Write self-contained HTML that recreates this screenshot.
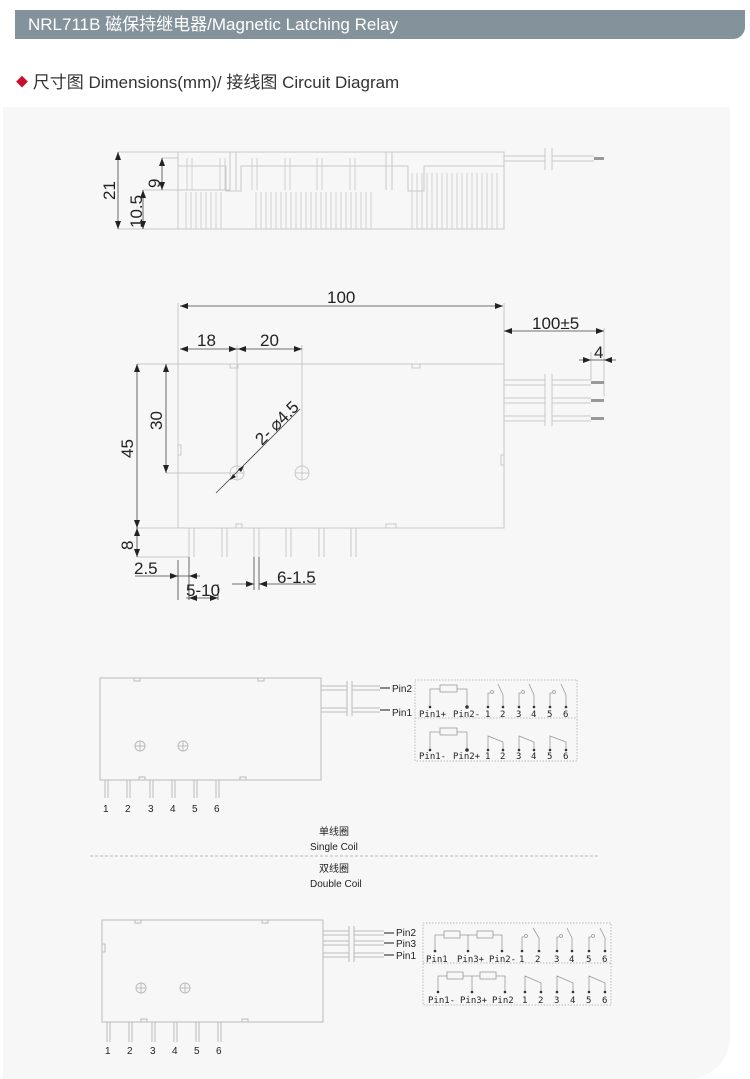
<!DOCTYPE html>
<html><head><meta charset="utf-8"><style>
body{margin:0;background:#fff;width:750px;height:1079px;overflow:hidden;font-family:"Liberation Sans","Noto Sans CJK SC",sans-serif}
.hdr{position:absolute;left:15px;top:10px;width:730px;height:29px;background:#84939b;border-bottom-right-radius:12px;color:#fff;font-size:17px;line-height:29px;padding-left:13px;box-sizing:border-box}
.sub{position:absolute;left:16px;top:68px;font-size:17px;color:#333}
.sub b{color:#c8102e;font-size:12px;font-weight:normal;vertical-align:2px}
.panel{position:absolute;left:3px;top:107px;width:727px;height:972px;background:#f7f7f7;border-bottom-right-radius:42px}
svg{position:absolute;left:0;top:0}
</style></head><body>
<div class="hdr">NRL711B 磁保持继电器/Magnetic Latching Relay</div>
<div class="sub"><b>◆</b> 尺寸图 Dimensions(mm)/ 接线图 Circuit Diagram</div>
<div class="panel"></div>
<svg width="750" height="1079" viewBox="0 0 750 1079" font-family="Liberation Sans, sans-serif">
<g fill="none" stroke="#c8c8c8" stroke-width="1">
<rect x="178" y="152" width="326" height="77"/>
<path d="M178 166H226V191H241V166H408V191H424V166H504"/>
<path d="M230 152V190M236 152V190M386 152V190M392 152V190"/>
<g stroke="#d0d0d0">
<path d="M187 158V190M192 158V190M220 158V190M225 158V190M252 158V190M257 158V190M285 158V190M290 158V190M317 158V190M322 158V190M350 158V190M355 158V190"/>
<path d="M186 192V229M191 192V229M196 192V229M201 192V229M206 192V229M211 192V229M216 192V229M221 192V229M256 192V229M261 192V229M266 192V229M271 192V229M276 192V229M281 192V229M286 192V229M291 192V229M296 192V229M301 192V229M306 192V229M311 192V229M316 192V229M321 192V229M326 192V229M331 192V229M336 192V229M341 192V229M346 192V229M351 192V229M356 192V229M361 192V229M366 192V229M371 192V229"/>
<path d="M412 173V229M417 173V229M422 173V229M427 173V229M432 173V229M437 173V229M442 173V229M447 173V229M452 173V229M457 173V229M462 173V229M467 173V229M472 173V229M477 173V229M482 173V229M487 173V229M492 173V229M497 173V229"/>
</g>
<path d="M504 156H545M504 161H545M552 156H594M552 161H594M545 148V170M552 148V170"/>
<path d="M118 152H178M118 229H178M143 190H230M162 158H178"/>
<rect x="178" y="364" width="326" height="164"/>
<path d="M178 303V364M504 303V364M237 345V473M302 345V473M166 473H237M137 364H178M137 528H178M137 557H189M604 328V396"/>
<circle cx="237" cy="473" r="7"/><circle cx="302" cy="473" r="7"/>
<path d="M230 473H244M237 466V480M295 473H309M302 466V480"/>
<path d="M189 528V557M194 528V557M222 528V557M227 528V557M254 528V557M259 528V557M286 528V557M291 528V557M319 528V557M324 528V557M351 528V557M356 528V557"/>
<rect x="230" y="364" width="8" height="4"/><rect x="412" y="364" width="8" height="4"/><rect x="236" y="524" width="6" height="4"/><rect x="386" y="524" width="10" height="4"/>
<rect x="178" y="445" width="3" height="10"/><rect x="501" y="455" width="3" height="10"/>
<path d="M504 380H545M504 385H545M504 398H545M504 403H545M504 416H545M504 421H545M552 380H591M552 385H591M552 398H591M552 403H591M552 416H591M552 421H591M545 374V426M552 374V426"/>
<path d="M591 352V380"/>
</g>
<g stroke="#999" stroke-width="3"><path d="M591 382.5H604M591 400.5H604M591 418.5H604M594 158.5H604"/></g>
<g stroke="#444" stroke-width="0.8" fill="none">
<path d="M118 152V229M162 158V190M143 190V229M180 306H503M504 331H604M180 349H237M237 349H302M166 364V473M137 364V528M137 528V557M591 360H616M579 360H591"/>
<path d="M216 493L300 409"/>
<path d="M135 576H200M178 560V600M189 557V600M218 584V600M186 598H218M254 557V590M259 557V590M232 584H254M259 584H316"/>
</g>
<g fill="#222">
<path d="M118 152l-3 8h6zM118 229l-3-8h6zM162 158l-3 8h6zM162 190l-3-8h6zM143 190l-3 8h6zM143 229l-3-8h6z"/>
<path d="M180 306l8-3v6zM503 306l-8-3v6zM504 331l8-3v6zM604 331l-8-3v6zM180 349l8-3v6zM237 349l-8-3v6zM238 349l8-3v6zM302 349l-8-3v6z"/>
<path d="M166 364l-3 8h6zM166 473l-3-8h6zM137 364l-3 8h6zM137 528l-3-8h6zM137 528l-3 8h6zM137 557l-3-8h6z"/>
<path d="M591 360l-8-3v6zM604 360l8-3v6zM178 576l-8-3v6zM189 576l8-3v6zM189 598l8-3v6zM218 598l-8-3v6zM254 584l-8-3v6zM259 584l8-3v6z"/>
<path d="M244 466l-6 3 3 3zM230 480l6-3-3-3z"/>
</g>
<g font-size="17" fill="#222">
<text x="327" y="303">100</text><text x="532" y="329">100±5</text><text x="594" y="358">4</text>
<text x="197" y="346">18</text><text x="260" y="346">20</text>
<text x="134" y="574">2.5</text><text x="186" y="596">5-10</text><text x="277" y="583">6-1.5</text>
<text transform="translate(162,430) rotate(-90)">30</text>
<text transform="translate(133,458) rotate(-90)">45</text>
<text transform="translate(133,550) rotate(-90)">8</text>
<text transform="translate(115,200) rotate(-90)">21</text>
<text transform="translate(160,188) rotate(-90)">9</text>
<text transform="translate(142,228) rotate(-90)">10.5</text>
<text transform="translate(262,446) rotate(-45)">2- ⌀4.5</text>
</g>
<g fill="none" stroke="#bbb">
<rect x="100" y="678" width="221" height="102"/>
<circle cx="140" cy="746" r="5"/><circle cx="183" cy="746" r="5"/>
<path d="M135 746h10M140 741v10M178 746h10M183 741v10"/>
<path d="M105 780v18M108 780v18M127 780v18M130 780v18M150 780v18M153 780v18M172 780v18M175 780v18M194 780v18M197 780v18M216 780v18M219 780v18"/>
<path d="M321 686H347M321 690H347M321 708H347M321 712H347M352 686H380M352 690H380M352 708H380M352 712H380M347 681V716M352 681V716"/>
<rect x="134" y="678" width="6" height="3"/><rect x="258" y="678" width="6" height="3"/><rect x="139" y="777" width="6" height="3"/><rect x="240" y="777" width="6" height="3"/>
<rect x="102" y="944" width="3" height="8"/>
</g>
<g stroke="#888" stroke-width="2"><path d="M380 688H390M380 710H390"/></g>
<g font-size="10" fill="#222">
<text x="392" y="692">Pin2</text><text x="392" y="716">Pin1</text>
<text x="103" y="812">1</text><text x="125" y="812">2</text><text x="148" y="812">3</text><text x="170" y="812">4</text><text x="192" y="812">5</text><text x="214" y="812">6</text>
<text x="319" y="835">单线圈</text><text x="310" y="850">Single Coil</text>
<text x="319" y="872">双线圈</text><text x="310" y="887">Double Coil</text>
</g>
<path d="M90 856H600" stroke="#bbb" stroke-dasharray="3,2"/>
<g fill="none" stroke="#bbb" stroke-dasharray="1.5,1.5"><rect x="415" y="680" width="162" height="81"/><path d="M415 718H577"/></g>
<g fill="none" stroke="#999" stroke-width="0.8">
<path d="M430 706V689H440M457 689H467V706"/><rect x="440" y="685" width="17" height="7"/>
<path d="M430 749V732H440M457 732H467V749"/><rect x="440" y="728" width="17" height="7"/>
<path d="M488 706V693h2M503 706V695L498 684M519 706V693h2M534 706V695L529 684M550 706V693h2M566 706V695L561 684"/>
<circle cx="492" cy="692" r="1.5"/><circle cx="523" cy="692" r="1.5"/><circle cx="554" cy="692" r="1.5"/>
<path d="M488 749V736L503 742V749M519 749V736L534 742V749M550 749V736L566 742V749"/>
</g>
<g fill="#333"><circle cx="430" cy="707" r="1.3"/><circle cx="467" cy="707" r="1.8"/><circle cx="488" cy="707" r="1.3"/><circle cx="503" cy="707" r="1.3"/><circle cx="519" cy="707" r="1.3"/><circle cx="534" cy="707" r="1.3"/><circle cx="550" cy="707" r="1.3"/><circle cx="566" cy="707" r="1.3"/>
<circle cx="430" cy="750" r="1.3"/><circle cx="467" cy="750" r="1.8"/><circle cx="488" cy="750" r="1.3"/><circle cx="503" cy="750" r="1.3"/><circle cx="519" cy="750" r="1.3"/><circle cx="534" cy="750" r="1.3"/><circle cx="550" cy="750" r="1.3"/><circle cx="566" cy="750" r="1.3"/></g>
<g font-size="9" fill="#222" font-family="DejaVu Sans Mono, monospace">
<text x="419" y="717">Pin1+</text><text x="453" y="717">Pin2-</text><text x="485" y="717">1</text><text x="500" y="717">2</text><text x="516" y="717">3</text><text x="531" y="717">4</text><text x="547" y="717">5</text><text x="563" y="717">6</text>
<text x="419" y="759">Pin1-</text><text x="453" y="759">Pin2+</text><text x="485" y="759">1</text><text x="500" y="759">2</text><text x="516" y="759">3</text><text x="531" y="759">4</text><text x="547" y="759">5</text><text x="563" y="759">6</text>
</g>
<g fill="none" stroke="#bbb">
<rect x="102" y="920" width="221" height="102"/>
<circle cx="141" cy="988" r="5"/><circle cx="185" cy="988" r="5"/>
<path d="M136 988h10M141 983v10M180 988h10M185 983v10"/>
<path d="M107 1022v20M110 1022v20M129 1022v20M132 1022v20M152 1022v20M155 1022v20M174 1022v20M177 1022v20M196 1022v20M199 1022v20M218 1022v20M221 1022v20"/>
<path d="M323 931H349M323 935H349M323 941H349M323 945H349M323 953H349M323 957H349M354 931H384M354 935H384M354 941H384M354 945H384M354 953H384M354 957H384M349 926V962M354 926V962"/>
<rect x="135" y="920" width="6" height="3"/><rect x="262" y="920" width="6" height="3"/><rect x="141" y="1019" width="6" height="3"/><rect x="242" y="1019" width="6" height="3"/>
</g>
<g stroke="#888" stroke-width="2"><path d="M384 933H394M384 943H394M384 955H394"/></g>
<g font-size="10" fill="#222">
<text x="396" y="936">Pin2</text><text x="396" y="947">Pin3</text><text x="396" y="959">Pin1</text>
<text x="105" y="1054">1</text><text x="127" y="1054">2</text><text x="150" y="1054">3</text><text x="172" y="1054">4</text><text x="194" y="1054">5</text><text x="216" y="1054">6</text>
</g>
<g fill="none" stroke="#bbb" stroke-dasharray="1.5,1.5"><rect x="423" y="923" width="188" height="82"/><path d="M423 963H611"/></g>
<g fill="none" stroke="#999" stroke-width="0.8">
<path d="M435 950V935H444M460 935H477M493 935H502V950M468 935V950"/><rect x="444" y="931" width="16" height="7"/><rect x="477" y="931" width="16" height="7"/>
<path d="M438 991V976H447M463 976H480M496 976H505V991M472 976V991"/><rect x="447" y="972" width="16" height="7"/><rect x="480" y="972" width="16" height="7"/>
<path d="M522 950V937h2M539 950V938L533 928M557 950V937h2M572 950V938L567 928M589 950V937h2M605 950V938L600 928"/>
<circle cx="526" cy="936" r="1.5"/><circle cx="561" cy="936" r="1.5"/><circle cx="593" cy="936" r="1.5"/>
<path d="M525 991V976L541 983V991M557 991V976L573 983V991M589 991V976L605 983V991"/>
</g>
<g fill="#333"><circle cx="435" cy="951" r="1.3"/><circle cx="468" cy="951" r="1.3"/><circle cx="502" cy="951" r="1.3"/><circle cx="522" cy="951" r="1.3"/><circle cx="539" cy="951" r="1.3"/><circle cx="557" cy="951" r="1.3"/><circle cx="572" cy="951" r="1.3"/><circle cx="589" cy="951" r="1.3"/><circle cx="605" cy="951" r="1.3"/>
<circle cx="438" cy="992" r="1.3"/><circle cx="472" cy="992" r="1.3"/><circle cx="505" cy="992" r="1.3"/><circle cx="525" cy="992" r="1.3"/><circle cx="541" cy="992" r="1.3"/><circle cx="557" cy="992" r="1.3"/><circle cx="573" cy="992" r="1.3"/><circle cx="589" cy="992" r="1.3"/><circle cx="605" cy="992" r="1.3"/></g>
<g font-size="9" fill="#222" font-family="DejaVu Sans Mono, monospace">
<text x="426" y="962">Pin1</text><text x="457" y="962">Pin3+</text><text x="489" y="962">Pin2-</text><text x="519" y="962">1</text><text x="535" y="962">2</text><text x="554" y="962">3</text><text x="569" y="962">4</text><text x="586" y="962">5</text><text x="602" y="962">6</text>
<text x="428" y="1003">Pin1-</text><text x="460" y="1003">Pin3+</text><text x="492" y="1003">Pin2</text><text x="522" y="1003">1</text><text x="538" y="1003">2</text><text x="554" y="1003">3</text><text x="570" y="1003">4</text><text x="586" y="1003">5</text><text x="602" y="1003">6</text>
</g>
</svg>
</body></html>
